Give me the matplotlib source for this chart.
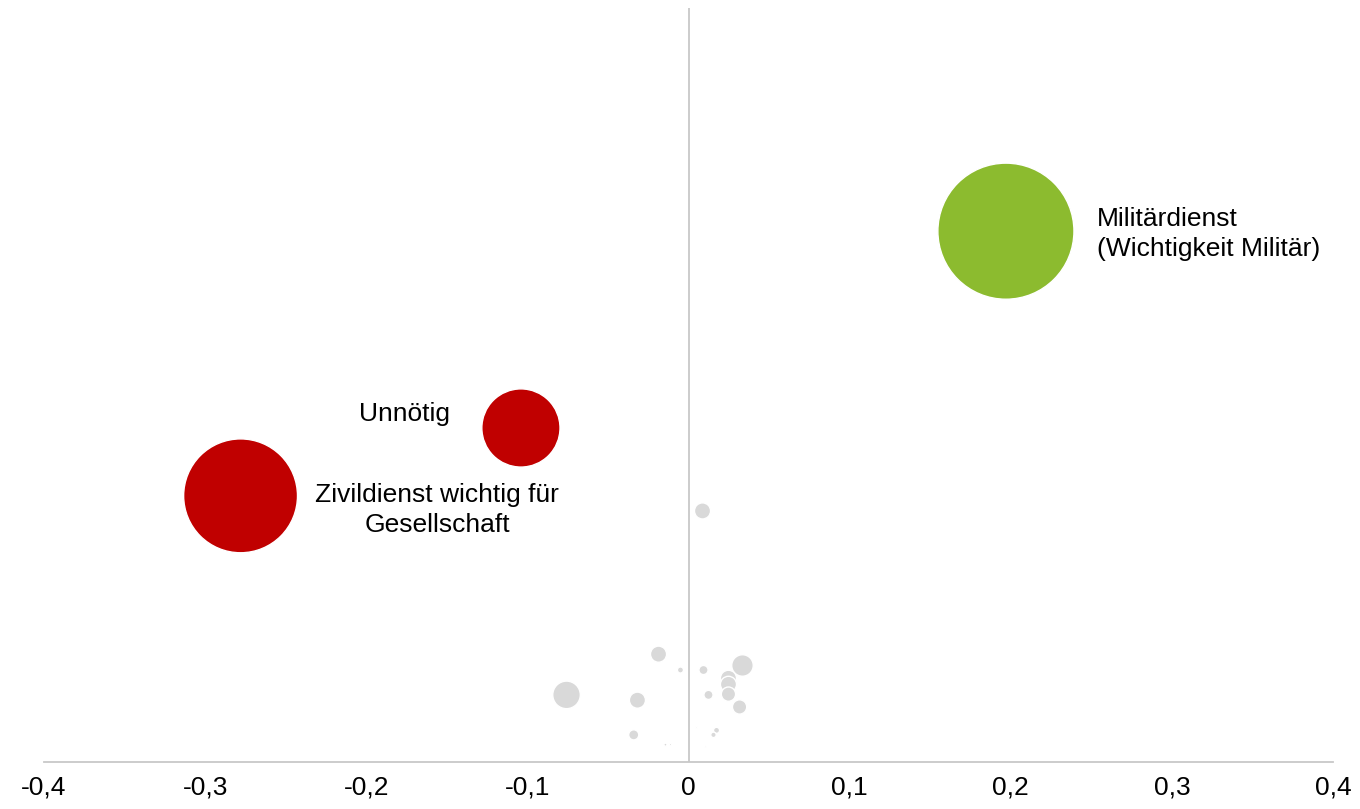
import matplotlib.pyplot as plt
from matplotlib.ticker import FixedLocator, FuncFormatter

plt.rcParams["font.family"] = ["Liberation Sans", "DejaVu Sans"]

# labelled bubbles
labels = ["Militärdienst\n(Wichtigkeit Militär)", "Unnötig", "Zivildienst wichtig für\nGesellschaft"]
lab_x = [0.197, -0.104, -0.278]
lab_y = [0.704, 0.443, 0.353]
lab_size = [100, 33, 70]
lab_colors = ["#8cbb2f", "#c00000", "#c00000"]

# grey bubbles (other items)
grey_x = [0.0087, -0.0757, -0.0186, -0.005, -0.0317, -0.034, -0.0143, -0.0112,
          0.0093, 0.0124, 0.0335, 0.0248, 0.0248, 0.0248, 0.0317, 0.0174, 0.0155,
          0.005, 0.0105]
grey_y = [0.333, 0.089, 0.143, 0.122, 0.082, 0.036, 0.023, 0.023,
          0.122, 0.089, 0.128, 0.111, 0.103, 0.090, 0.073, 0.042, 0.036,
          0.046, 0.020]
grey_size = [1.4, 4.1, 1.4, 0.2, 1.4, 0.55, 0.05, 0.03,
             0.45, 0.45, 2.5, 1.4, 1.4, 1.1, 1.1, 0.2, 0.16,
             0.02, 0.02]

xticks = [-0.4, -0.3, -0.2, -0.1, 0, 0.1, 0.2, 0.3, 0.4]

k = 96  # size units -> points^2

fig = plt.figure(figsize=(13.6, 8.09), dpi=100)
ax = fig.add_axes([44 / 1360, 1 - 762 / 809, (1333 - 44) / 1360, (762 - 8) / 809])

ax.axvline(0, color="#c8c8c8", lw=1.3, zorder=1)
ax.scatter(grey_x, grey_y, s=[v * k for v in grey_size], color="#d9d9d9",
           edgecolors="white", linewidths=1, zorder=2)
ax.scatter(lab_x, lab_y, s=[v * k for v in lab_size], color=lab_colors,
           edgecolors="white", linewidths=1, zorder=3)

ax.text(0.2535, 0.700, labels[0], fontsize=19, ha="left", va="center", linespacing=1.3)
ax.text(-0.176, 0.462, labels[1], fontsize=19, ha="center", va="center")
ax.text(-0.156, 0.334, labels[2], fontsize=19, ha="center", va="center", linespacing=1.3)

ax.set_xlim(-0.4, 0.4)
ax.set_ylim(0, 1)
ax.xaxis.set_major_locator(FixedLocator(xticks))
ax.xaxis.set_major_formatter(FuncFormatter(lambda v, p: ("%g" % round(v, 1)).replace(".", ",")))
ax.tick_params(axis="x", length=0, labelsize=19, pad=10)
ax.set_yticks([])
for s in ["top", "right", "left"]:
    ax.spines[s].set_visible(False)
ax.spines["bottom"].set_color("#c8c8c8")
ax.spines["bottom"].set_linewidth(1.3)

fig.savefig("out.png", dpi=100)
